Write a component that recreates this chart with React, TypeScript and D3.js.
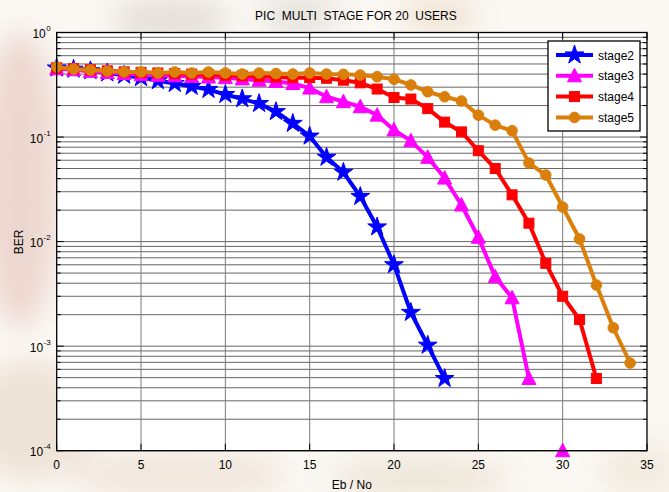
import * as d3 from 'd3';
import React from 'react';

// Eb/No (dB) -> BER for each PIC stage
const stage2 = [0.457, 0.445, 0.43, 0.41, 0.39, 0.37, 0.345, 0.325, 0.305, 0.285, 0.255,
  0.232, 0.209, 0.175, 0.135, 0.102, 0.064, 0.046, 0.027, 0.0138, 0.006, 0.0021, 0.00102, 0.00049];
const stage3 = [0.45, 0.44, 0.425, 0.415, 0.405, 0.395, 0.39, 0.385, 0.38, 0.375, 0.37,
  0.36, 0.35, 0.34, 0.325, 0.294, 0.243, 0.218, 0.195, 0.162, 0.117, 0.092, 0.064, 0.0405,
  0.0224, 0.011, 0.0046, 0.0029, 0.00049, null, 0.0001];
const stage4 = [0.46, 0.45, 0.44, 0.43, 0.42, 0.415, 0.41, 0.405, 0.4, 0.395, 0.39, 0.385,
  0.38, 0.375, 0.37, 0.37, 0.365, 0.35, 0.33, 0.288, 0.239, 0.231, 0.187, 0.139, 0.112,
  0.074, 0.05, 0.028, 0.015, 0.0062, 0.003, 0.0018, 0.00049];
const stage5 = [0.468, 0.448, 0.438, 0.428, 0.42, 0.42, 0.41, 0.419, 0.41, 0.419, 0.41,
  0.401, 0.41, 0.405, 0.401, 0.41, 0.401, 0.398, 0.392, 0.378, 0.357, 0.315, 0.271, 0.243,
  0.221, 0.162, 0.13, 0.115, 0.0564, 0.0433, 0.0214, 0.0106, 0.00384, 0.0015, 0.00069];

const xTicks = [0, 5, 10, 15, 20, 25, 30, 35];
const yExponents = [0, -1, -2, -3, -4];

const series = [
  { name: 'stage2', values: stage2, color: '#0000ff', marker: 'star' },
  { name: 'stage3', values: stage3, color: '#ff00ff', marker: 'triangle' },
  { name: 'stage4', values: stage4, color: '#ff0000', marker: 'square' },
  { name: 'stage5', values: stage5, color: '#db7f0b', marker: 'circle' },
];

const W = 669;
const H = 492;
const left = 56.7, right = 647, top = 32.5, bottom = 450.7;
const font = '"Liberation Sans", Arial, sans-serif';

const x = d3.scaleLinear().domain([0, 35]).range([left, right]);
const y = d3.scaleLog().domain([1e-4, 1]).range([bottom, top]);

const starPath = d3.symbol(d3.symbolStar, 110)();

function Marker({ type, color, cx, cy }) {
  if (type === 'star') {
    return <path d={starPath} transform={`translate(${cx},${cy})`} fill={color} stroke={color} strokeWidth={1} />;
  }
  if (type === 'triangle') {
    return <path d="M0,-7.5L7,6L-7,6Z" transform={`translate(${cx},${cy})`} fill={color} stroke={color} strokeWidth={1} />;
  }
  if (type === 'square') {
    return <rect x={cx - 5} y={cy - 5} width={10} height={10} fill={color} stroke={color} strokeWidth={1} />;
  }
  return <circle cx={cx} cy={cy} r={5.3} fill={color} stroke={color} strokeWidth={1} />;
}

export default function App() {
  const line = d3.line()
    .defined(d => d[1] != null)
    .x(d => x(d[0]))
    .y(d => y(d[1]));

  const yGrid = y.ticks();
  const minor = yGrid.filter(v => Math.abs(Math.log10(v) - Math.round(Math.log10(v))) > 1e-6);

  return (
    <svg width={W} height={H} style={{ position: 'absolute', left: 0, top: 0, background: '#fbf8f4' }}>
      <defs>
        <filter id="blur" x="-50%" y="-50%" width="200%" height="200%">
          <feGaussianBlur stdDeviation="14" />
        </filter>
      </defs>
      {/* faded photo behind the figure */}
      <g filter="url(#blur)" opacity={0.6}>
        <ellipse cx={20} cy={180} rx={40} ry={150} fill="#e3c2b8" />
        <ellipse cx={30} cy={420} rx={70} ry={60} fill="#e6d6c4" />
        <ellipse cx={170} cy={20} rx={60} ry={25} fill="#d9d0c8" />
        <ellipse cx={300} cy={15} rx={40} ry={20} fill="#d8d4cc" />
        <ellipse cx={440} cy={15} rx={40} ry={18} fill="#e8d5bd" />
        <ellipse cx={180} cy={475} rx={110} ry={25} fill="#e9dccd" />
        <ellipse cx={420} cy={478} rx={90} ry={20} fill="#e4d9c6" />
        <ellipse cx={640} cy={470} rx={40} ry={30} fill="#ece2d2" />
      </g>

      <rect x={left} y={top} width={right - left} height={bottom - top} fill="#ffffff" />

      {/* grid */}
      {yGrid.map((v, i) => (
        <line key={'gy' + i} x1={left} x2={right} y1={y(v)} y2={y(v)} stroke="#666" strokeWidth={1} />
      ))}
      {xTicks.slice(1, -1).map(t => (
        <line key={'gx' + t} x1={x(t)} x2={x(t)} y1={top} y2={bottom} stroke="#7a7a7a" strokeWidth={1} />
      ))}

      {/* ticks inside the box */}
      {xTicks.map(t => (
        <g key={'tx' + t}>
          <line x1={x(t)} x2={x(t)} y1={bottom} y2={bottom - 7} stroke="#000" />
          <line x1={x(t)} x2={x(t)} y1={top} y2={top + 7} stroke="#000" />
        </g>
      ))}
      {minor.map((v, i) => (
        <g key={'ty' + i}>
          <line x1={left} x2={left + 4} y1={y(v)} y2={y(v)} stroke="#000" />
          <line x1={right} x2={right - 4} y1={y(v)} y2={y(v)} stroke="#000" />
        </g>
      ))}
      {yExponents.map(e => (
        <g key={'tm' + e}>
          <line x1={left} x2={left + 7} y1={y(10 ** e)} y2={y(10 ** e)} stroke="#000" />
          <line x1={right} x2={right - 7} y1={y(10 ** e)} y2={y(10 ** e)} stroke="#000" />
        </g>
      ))}

      {/* series */}
      {series.map(s => {
        const pts = s.values.map((v, i) => [i, v]);
        return (
          <g key={s.name}>
            <path d={line(pts)} fill="none" stroke={s.color} strokeWidth={4} strokeLinejoin="round" />
            {pts.filter(p => p[1] != null).map(p => (
              <Marker key={p[0]} type={s.marker} color={s.color} cx={x(p[0])} cy={y(p[1])} />
            ))}
          </g>
        );
      })}

      <rect x={left} y={top} width={right - left} height={bottom - top} fill="none" stroke="#000" strokeWidth={1.3} />

      {/* tick labels */}
      {xTicks.map(t => (
        <text key={'lx' + t} x={x(t)} y={bottom + 18} textAnchor="middle" fontFamily={font} fontSize={12}>{t}</text>
      ))}
      {yExponents.map(e => (
        <text key={'ly' + e} x={left - 6} y={y(10 ** e) + 5.5} textAnchor="end" fontFamily={font} fontSize={12}>
          10
          <tspan fontSize={8} dx={0.5} dy={-7}>{e}</tspan>
        </text>
      ))}

      <text x={(left + right) / 2 + 4} y={20} textAnchor="middle" fontFamily={font} fontSize={12} style={{ whiteSpace: 'pre' }}>
        {'PIC  MULTI  STAGE FOR 20  USERS'}
      </text>
      <text x={(left + right) / 2} y={489} textAnchor="middle" fontFamily={font} fontSize={12}>Eb / No</text>
      <text transform={`translate(22.5,242) rotate(-90)`} textAnchor="middle" fontFamily={font} fontSize={12}>BER</text>

      {/* legend */}
      <g>
        <rect x={548} y={41} width={92} height={90} fill="#fff" stroke="#000" strokeWidth={1.3} />
        {series.map((s, i) => {
          const ly = 55 + i * 20.8;
          return (
            <g key={'lg' + s.name}>
              <line x1={556} x2={593} y1={ly} y2={ly} stroke={s.color} strokeWidth={4} />
              <Marker type={s.marker} color={s.color} cx={574.5} cy={ly} />
              <text x={598} y={ly + 4.5} fontFamily={font} fontSize={12}>{s.name}</text>
            </g>
          );
        })}
      </g>
    </svg>
  );
}
